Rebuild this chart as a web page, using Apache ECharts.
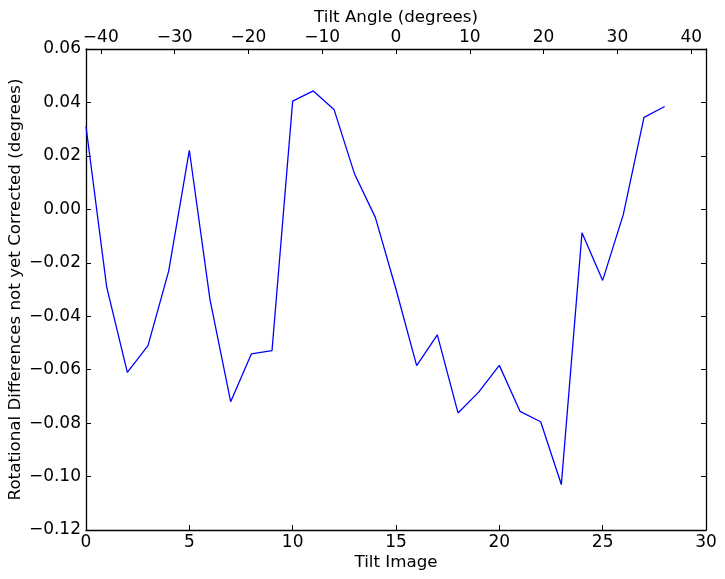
<!DOCTYPE html>
<html><head><meta charset="utf-8">
<script src="https://cdn.jsdelivr.net/npm/echarts@6/dist/echarts.min.js"></script>
<style>html,body{margin:0;padding:0;background:#fff}#c{width:725px;height:579px}</style>
</head><body><div id="c"></div>
<script>
const tiltImage = [0,1,2,3,4,5,6,7,8,9,10,11,12,13,14,15,16,17,18,19,20,21,22,23,24,25,26,27,28];
const rotDiff = [0.031,-0.029,-0.061,-0.051,-0.0231,0.0221,-0.0338,-0.072,-0.0541,-0.0529,0.0405,0.0443,0.0374,0.0131,-0.003,-0.0299,-0.0585,-0.047,-0.0762,-0.0684,-0.0584,-0.0756,-0.0795,-0.103,-0.0088,-0.0266,-0.0019,0.0344,0.0385];
const angleTicks = [-40,-30,-20,-10,0,10,20,30,40];

const FONT = 'DejaVu Sans';
const FS = 17;
const NFS = 16.7;
const minus = s => String(s).replace('-', '\u2212');
const axisLine = {show:true, onZero:false, lineStyle:{color:'#000', width:1.3}};
const tick = {show:true, inside:true, length:5, lineStyle:{color:'#000', width:1}};

const chart = echarts.init(document.getElementById('c'));
chart.setOption({
  animation:false,
  backgroundColor:'#fff',
  grid:{left:86, right:19, top:49, bottom:49, containLabel:false, outerBoundsMode:'none'},
  xAxis:[
    {type:'value', position:'bottom', min:0, max:30, interval:5,
     name:'Tilt Image', nameLocation:'middle', nameGap:24, nameMoveOverlap:false,
     nameTextStyle:{fontFamily:FONT, fontSize:NFS, color:'#000'},
     axisLine:axisLine, axisTick:tick, splitLine:{show:false},
     axisLabel:{fontFamily:FONT, fontSize:FS, color:'#000', margin:4}},
    {type:'value', position:'top', min:-42, max:42,
     name:'Tilt Angle (degrees)', nameLocation:'middle', nameGap:23, nameMoveOverlap:false,
     nameTextStyle:{fontFamily:FONT, fontSize:NFS, color:'#000'},
     axisLine:axisLine,
     axisTick:Object.assign({}, tick, {customValues:angleTicks}),
     splitLine:{show:false},
     axisLabel:{fontFamily:FONT, fontSize:FS, color:'#000', margin:3, customValues:angleTicks, formatter:v=>minus(v)}}
  ],
  yAxis:[
    {type:'value', position:'left', min:-0.12, max:0.06, interval:0.02,
     name:'Rotational Differences not yet Corrected (degrees)', nameLocation:'middle', nameGap:62, nameMoveOverlap:false,
     nameTextStyle:{fontFamily:FONT, fontSize:NFS, color:'#000'},
     axisLine:axisLine, axisTick:tick, splitLine:{show:false},
     axisLabel:{fontFamily:FONT, fontSize:FS, color:'#000', margin:5, formatter:v=>minus(v.toFixed(2))}},
    {type:'value', position:'right', min:-0.12, max:0.06, interval:0.02,
     axisLine:axisLine, axisTick:tick, splitLine:{show:false}, axisLabel:{show:false}}
  ],
  series:[{
    type:'line', xAxisIndex:0, yAxisIndex:0,
    data: tiltImage.map((x,i)=>[x, rotDiff[i]]),
    showSymbol:false, symbol:'none',
    lineStyle:{color:'#0000ff', width:1.3}
  }]
});
</script></body></html>
